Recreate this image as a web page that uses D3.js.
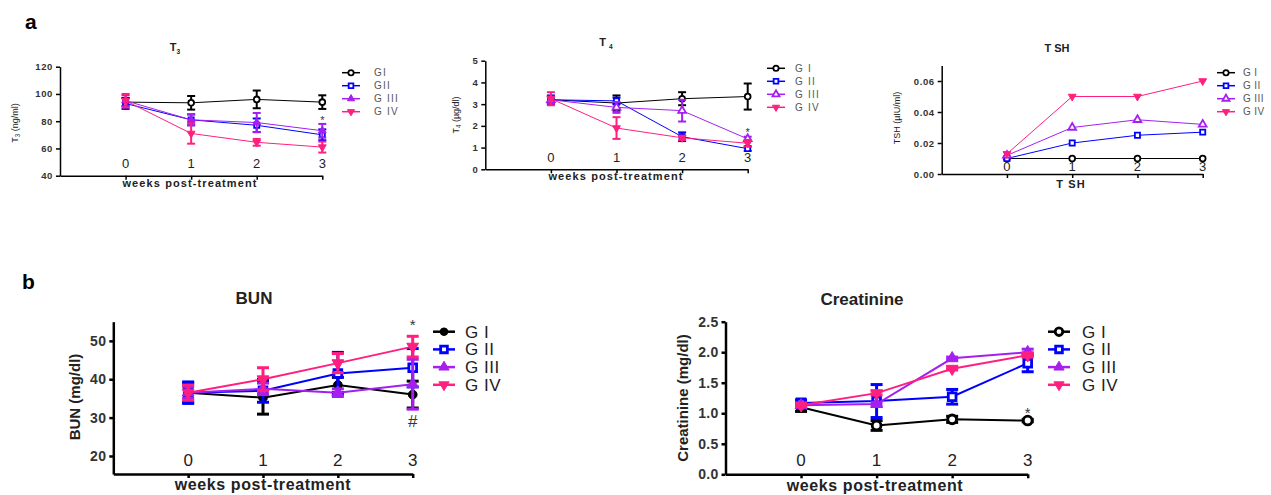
<!DOCTYPE html>
<html>
<head>
<meta charset="utf-8">
<script src="https://cdn.jsdelivr.net/npm/d3@7"></script>
<style>
  body { margin: 0; background: #fff; }
  svg { display: block; font-family: "Liberation Sans", Arial, sans-serif; }
</style>
</head>
<body>
<svg id="chart" width="1271" height="495"></svg>
<script>
// weeks post-treatment
const weeks = [0, 1, 2, 3];
const groups = ["G I", "G II", "G III", "G IV"];
const colors = ["#000000", "#0000ff", "#a51ff0", "#ff1f7f"];

// T3 (ng/ml): mean and error per group
const t3Mean = [[94, 93.5, 96, 94], [93, 81, 77, 70], [95, 81, 79, 73], [95, 71, 64.5, 61]];
const t3Err = [[3, 5, 6.5, 5], [4, 4, 5, 4], [4, 4, 7, 5], [5, 7.5, 2.5, 4]];
const t3Ticks = [40, 60, 80, 100, 120];

// T4 (µg/dl)
const t4Mean = [[3.2, 3.05, 3.25, 3.35], [3.2, 3.15, 1.5, 0.95], [3.2, 2.85, 2.7, 1.4], [3.25, 1.9, 1.45, 1.2]];
const t4Err = [[0.15, 0.35, 0.3, 0.6], [0.2, 0.15, 0.2, 0.1], [0.15, 0.25, 0.5, 0.1], [0.3, 0.5, 0.1, 0.15]];
const t4Ticks = [0, 1, 2, 3, 4, 5];

// TSH (µIU/ml), no error bars
const tshMean = [[0.01, 0.01, 0.01, 0.01], [0.01, 0.02, 0.025, 0.027], [0.012, 0.03, 0.035, 0.032], [0.013, 0.05, 0.05, 0.06]];
const tshTicks = [0, 0.02, 0.04, 0.06];

// BUN (mg/dl)
const bunMean = [[36.5, 35.2, 38.5, 36], [36.5, 37, 41.5, 43], [36.5, 37.5, 36.5, 38.7], [36.5, 40, 44.2, 48.5]];
const bunErr = [[2.5, 4.3, 2, 3.5], [2.8, 3, 5.5, 5], [1.5, 1.5, 1, 6.5], [2, 3, 2.5, 2.7]];
const bunTicks = [20, 30, 40, 50];

// Creatinine (mg/dl)
const crMean = [[1.1, 0.8, 0.9, 0.88], [1.17, 1.2, 1.27, 1.82], [1.13, 1.15, 1.9, 2.0], [1.13, 1.33, 1.73, 1.95]];
const crErr = [[0.07, 0.08, 0.05, 0.02], [0.05, 0.27, 0.12, 0.14], [0.02, 0.03, 0.02, 0.05], [0.02, 0.03, 0.02, 0.03]];
const crTicks = [0, 0.5, 1.0, 1.5, 2.0, 2.5];

const svg = d3.select("#chart");

// estilos: fila de arriba (pequeña) y fila de abajo (grande)
const small = { tick: 9.5, tickLs: 0.6, xTick: 13, xLab: 11, xLabLs: 1.1, yLab: 9, title: 11, leg: 10, legLs: 1.2, line: 1, err: 2, axis: 1.5, sym: 26, legSym: 22, cap: 4, legRow: 13, legLine: 18 };
const big = { tick: 14, tickLs: 0.3, xTick: 17, xLab: 16, xLabLs: 0.6, yLab: 15, title: 17, leg: 17, legLs: 0.5, line: 2, err: 3, axis: 2.5, sym: 60, legSym: 45, cap: 6, legRow: 17.7, legLine: 22 };

function symbolPath(i, size) {
  const types = [d3.symbolCircle, d3.symbolSquare, d3.symbolTriangle, d3.symbolTriangle];
  return d3.symbol().type(types[i]).size(size)();
}

function drawPanel(p) {
  const s = p.style;
  const g = svg.append("g");
  const x = d3.scaleLinear().domain([-1, 3]).range([p.x0, p.x1]);
  const y = d3.scaleLinear().domain(p.yDomain).range([p.y0, p.y1]);

  // eje Y
  const ya = g.append("g").attr("transform", `translate(${p.x0},0)`)
    .call(d3.axisLeft(y).tickValues(p.yTicks).tickSize(4).tickSizeOuter(0).tickFormat(d3.format(p.fmt)));
  ya.select(".domain").attr("stroke-width", s.axis);
  ya.selectAll(".tick line").attr("stroke-width", s.axis);
  ya.selectAll(".tick text").attr("font-size", s.tick).attr("font-weight", "bold")
    .attr("letter-spacing", s.tickLs).attr("fill", "#333").attr("font-family", "Liberation Sans, Arial");

  // eje X (marcas hacia abajo, etiquetas dentro del gráfico)
  const xa = g.append("g").attr("transform", `translate(0,${p.y0})`)
    .call(d3.axisBottom(x).tickValues(weeks).tickSize(4).tickSizeOuter(0).tickFormat(""));
  xa.select(".domain").attr("stroke-width", s.axis);
  xa.selectAll(".tick line").attr("stroke-width", s.axis);
  g.selectAll(".wk").data(weeks).enter().append("text")
    .attr("x", d => x(d)).attr("y", p.wkY)
    .attr("text-anchor", "middle").attr("font-size", s.xTick).attr("fill", "#222")
    .text(d => d);

  // título, etiquetas de ejes
  const t = g.append("text").attr("x", p.titleX).attr("y", p.titleY)
    .attr("text-anchor", "middle").attr("font-size", s.title).attr("font-weight", "bold").attr("fill", "#222");
  p.title.forEach(([txt, sub]) => {
    const ts = t.append("tspan").text(txt);
    if (sub) ts.attr("font-size", s.title * 0.6).attr("dy", 3);
  });
  g.append("text").attr("x", p.xLabX).attr("y", p.xLabY)
    .attr("text-anchor", "middle").attr("font-size", s.xLab).attr("font-weight", "bold").attr("fill", "#222")
    .attr("letter-spacing", s.xLabLs).text(p.xLab);
  const yl = g.append("text").attr("transform", `translate(${p.yLabX},${p.yLabY}) rotate(-90)`)
    .attr("text-anchor", "middle").attr("font-size", s.yLab).attr("font-weight", p.yLabBold ? "bold" : "normal").attr("fill", "#222");
  p.yLab.forEach(([txt, sub]) => {
    const ts = yl.append("tspan").text(txt);
    if (sub) ts.attr("font-size", s.yLab * 0.7).attr("dy", 2);
    else if (ts.node().previousSibling) ts.attr("dy", -2);
  });

  // series
  p.mean.forEach((m, gi) => {
    const c = colors[gi];
    const pts = weeks.map((w, k) => ({ w, v: m[k], e: p.err ? p.err[gi][k] : 0 }));
    g.append("path").datum(pts)
      .attr("fill", "none").attr("stroke", c).attr("stroke-width", s.line)
      .attr("d", d3.line().x(d => x(d.w)).y(d => y(d.v)));
    if (p.err) {
      const eb = g.selectAll(null).data(pts).enter().append("g").attr("stroke", c).attr("stroke-width", s.err);
      eb.append("line").attr("x1", d => x(d.w)).attr("x2", d => x(d.w))
        .attr("y1", d => y(d.v - d.e)).attr("y2", d => y(d.v + d.e));
      eb.append("line").attr("x1", d => x(d.w) - s.cap).attr("x2", d => x(d.w) + s.cap)
        .attr("y1", d => y(d.v + d.e)).attr("y2", d => y(d.v + d.e));
      eb.append("line").attr("x1", d => x(d.w) - s.cap).attr("x2", d => x(d.w) + s.cap)
        .attr("y1", d => y(d.v - d.e)).attr("y2", d => y(d.v - d.e));
    }
    const open = p.open[gi];
    g.selectAll(null).data(pts).enter().append("path")
      .attr("d", symbolPath(gi, s.sym))
      .attr("transform", d => `translate(${x(d.w)},${y(d.v)})` + (gi === 3 ? " rotate(180)" : ""))
      .attr("fill", open ? "#fff" : c).attr("stroke", c).attr("stroke-width", open ? s.line + 0.8 : 1);

    // leyenda
    const ly = p.legY + gi * s.legRow;
    g.append("line").attr("x1", p.legX).attr("x2", p.legX + s.legLine).attr("y1", ly).attr("y2", ly)
      .attr("stroke", c).attr("stroke-width", s.line + 0.5);
    g.append("path").attr("d", symbolPath(gi, s.legSym))
      .attr("transform", `translate(${p.legX + s.legLine / 2},${ly})` + (gi === 3 ? " rotate(180)" : ""))
      .attr("fill", open ? "#fff" : c).attr("stroke", c).attr("stroke-width", open ? s.line + 0.8 : 1);
    g.append("text").attr("x", p.legX + s.legLine + p.legGap).attr("y", ly + s.leg * 0.35)
      .attr("font-size", s.leg).attr("letter-spacing", p.legLs !== undefined ? p.legLs : s.legLs)
      .attr("fill", p.legColor).text(p.legLabels[gi]);
  });

  // anotaciones (*, #)
  (p.notes || []).forEach(n => {
    g.append("text").attr("x", x(n.w)).attr("y", y(n.v)).attr("text-anchor", "middle")
      .attr("font-size", n.size).attr("fill", "#333").text(n.t);
  });
}

// panel a: T3
drawPanel({
  style: small, x0: 60, x1: 322.3, y0: 175.7, y1: 66.7, yDomain: [40, 120], yTicks: t3Ticks, fmt: "d",
  mean: t3Mean, err: t3Err, open: [true, true, false, false], wkY: 168,
  title: [["T"], ["3", true]], titleX: 175, titleY: 51,
  xLab: "weeks post-treatment", xLabX: 190, xLabY: 187,
  yLab: [["T"], ["3", true], [" (ng/ml)"]], yLabX: 18, yLabY: 123,
  legX: 342, legY: 72.7, legGap: 14, legColor: "#555", legLabels: ["GI", "GII", "G III", "G IV"],
  notes: [{ w: 3, v: 78, t: "*", size: 11 }]
});

// panel a: T4
drawPanel({
  style: small, x0: 485.3, x1: 747.7, y0: 169.3, y1: 60.7, yDomain: [0, 5], yTicks: t4Ticks, fmt: "d",
  mean: t4Mean, err: t4Err, open: [true, true, true, false], wkY: 162,
  title: [["T "], ["4", true]], titleX: 606, titleY: 46,
  xLab: "weeks post-treatment", xLabX: 616, xLabY: 180,
  yLab: [["T"], ["4", true], [" (µg/dl)"]], yLabX: 459, yLabY: 115,
  legX: 767, legY: 68.3, legGap: 10, legColor: "#555", legLabels: ["G I", "G II", "G III", "G IV"],
  notes: [{ w: 3, v: 1.55, t: "*", size: 11 }]
});

// panel a: TSH (leyenda pegada al borde derecho)
drawPanel({
  style: small, x0: 941.7, x1: 1202.7, y0: 174, y1: 65.5, yDomain: [0, 0.07], yTicks: tshTicks, fmt: ".2f",
  mean: tshMean, err: null, open: [true, true, true, false], wkY: 171,
  title: [["T SH"]], titleX: 1057, titleY: 52,
  xLab: "T SH", xLabX: 1071, xLabY: 188,
  yLab: [["TSH (µIU/ml)"]], yLabX: 900, yLabY: 118,
  legX: 1217, legY: 72.7, legGap: 8, legLs: 0.4, legColor: "#555", legLabels: ["G I", "G II", "G III", "G IV"]
});

// panel b: BUN
drawPanel({
  style: big, x0: 113.3, x1: 412.7, y0: 474, y1: 321.7, yDomain: [15.3, 55], yTicks: bunTicks, fmt: "d",
  mean: bunMean, err: bunErr, open: [false, true, false, false], wkY: 466,
  title: [["BUN"]], titleX: 254, titleY: 304,
  xLab: "weeks post-treatment", xLabX: 263, xLabY: 490,
  yLab: [["BUN (mg/dl)"]], yLabX: 80, yLabY: 397, yLabBold: true,
  legX: 433, legY: 331.7, legGap: 10, legColor: "#222", legLabels: ["G I", "G II", "G III", "G IV"],
  notes: [{ w: 3, v: 52.8, t: "*", size: 15 }, { w: 3, v: 27.5, t: "#", size: 17 }]
});

// panel b: Creatinine
drawPanel({
  style: big, x0: 725.5, x1: 1027.7, y0: 474.3, y1: 321.7, yDomain: [0, 2.5], yTicks: crTicks, fmt: ".1f",
  mean: crMean, err: crErr, open: [true, true, false, false], wkY: 466,
  title: [["Creatinine"]], titleX: 862, titleY: 305,
  xLab: "weeks post-treatment", xLabX: 875, xLabY: 491,
  yLab: [["Creatinine (mg/dl)"]], yLabX: 688, yLabY: 398, yLabBold: true,
  legX: 1048, legY: 331.7, legGap: 12, legColor: "#222", legLabels: ["G I", "G II", "G III", "G IV"],
  notes: [{ w: 3, v: 0.93, t: "*", size: 15 }]
});

// letras de panel
svg.append("text").attr("x", 25).attr("y", 29).attr("font-size", 21).attr("font-weight", "bold").text("a");
svg.append("text").attr("x", 22).attr("y", 289).attr("font-size", 21).attr("font-weight", "bold").text("b");
</script>
</body>
</html>
